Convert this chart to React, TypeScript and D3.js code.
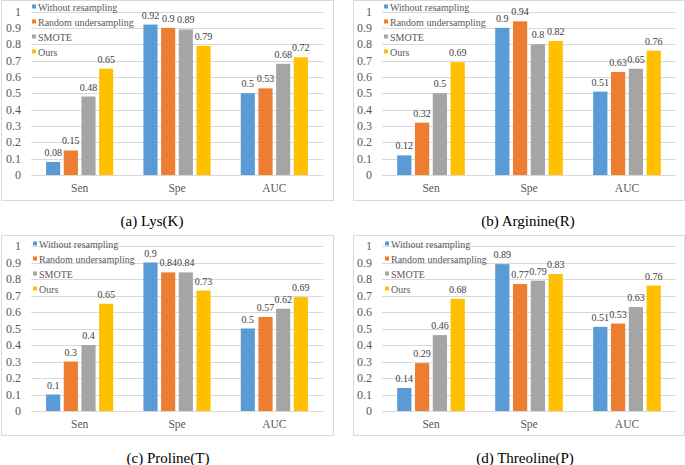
import { useEffect, useRef } from 'react'

import * as d3 from 'd3'

// Categories, series and tick labels
const categories = ['Sen', 'Spe', 'AUC']
const seriesNames = ['Without resampling', 'Random undersampling', 'SMOTE', 'Ours']
const seriesColors = ['#5B9BD5', '#ED7D31', '#A5A5A5', '#FFC000']
const yTicks = [0, 0.1, 0.2, 0.3, 0.4, 0.5, 0.6, 0.7, 0.8, 0.9, 1]

// Values per panel: one row per series, one column per category
const lysValues = [
  [0.08, 0.92, 0.5],
  [0.15, 0.9, 0.53],
  [0.48, 0.89, 0.68],
  [0.65, 0.79, 0.72],
]
const arginineValues = [
  [0.12, 0.9, 0.51],
  [0.32, 0.94, 0.63],
  [0.5, 0.8, 0.65],
  [0.69, 0.82, 0.76],
]
const prolineValues = [
  [0.1, 0.9, 0.5],
  [0.3, 0.84, 0.57],
  [0.4, 0.84, 0.62],
  [0.65, 0.73, 0.69],
]
const threolineValues = [
  [0.14, 0.89, 0.51],
  [0.29, 0.77, 0.53],
  [0.46, 0.79, 0.63],
  [0.68, 0.83, 0.76],
]
const captions = ['(a) Lys(K)', '(b) Arginine(R)', '(c) Proline(T)', '(d) Threoline(P)']

const panelValues = [lysValues, arginineValues, prolineValues, threolineValues]

// Layout of each panel (frame, plot area, legend, caption)
const layouts = [
  { fx: 1.5, fy: 0.5, fw: 332, fh: 200, left: 31, right: 323, top: 11.5, bottom: 175, lx: 32, ly: 7, cx: 152, cy: 226 },
  { fx: 353.5, fy: 0.5, fw: 331, fh: 200, left: 382, right: 676, top: 11.5, bottom: 175, lx: 384, ly: 7, cx: 528, cy: 226 },
  { fx: 1.5, fy: 235.5, fw: 332, fh: 200, left: 31, right: 323, top: 246, bottom: 411, lx: 33, ly: 244, cx: 168, cy: 463 },
  { fx: 353.5, fy: 235.5, fw: 331, fh: 200, left: 382, right: 676, top: 246, bottom: 411, lx: 385, ly: 244, cx: 525, cy: 463 },
]

const font = 'Liberation Serif, Times New Roman, serif'

const App = () => {
  const ref = useRef<SVGSVGElement>(null)

  useEffect(() => {
    const svg = d3.select(ref.current)
    svg.selectAll('*').remove()

    svg.append('rect').attr('width', 685).attr('height', 465).attr('fill', '#fff')

    layouts.forEach((lay, p) => {
      const values = panelValues[p]
      const g = svg.append('g')

      // Frame
      g.append('rect')
        .attr('x', lay.fx)
        .attr('y', lay.fy)
        .attr('width', lay.fw)
        .attr('height', lay.fh)
        .attr('fill', '#fff')
        .attr('stroke', '#D9D9D9')

      const y = d3.scaleLinear().domain([0, 1]).range([lay.bottom, lay.top])
      const x0 = d3
        .scaleBand<string>()
        .domain(categories)
        .range([lay.left, lay.right])
        .paddingInner(0.31)
        .paddingOuter(0.155)
      const x1 = d3
        .scaleBand<string>()
        .domain(seriesNames)
        .range([0, x0.bandwidth()])
        .paddingInner(0.2)

      // Gridlines and y tick labels
      yTicks.forEach((t) => {
        const yy = Math.round(y(t)) + 0.5
        g.append('line')
          .attr('x1', lay.left)
          .attr('x2', lay.right)
          .attr('y1', yy)
          .attr('y2', yy)
          .attr('stroke', '#D9D9D9')
        g.append('text')
          .attr('x', lay.left - 10)
          .attr('y', y(t) + 4)
          .attr('text-anchor', 'end')
          .style('font-family', font)
          .attr('font-size', 12)
          .attr('fill', '#595959')
          .text(String(t))
      })

      // Bars and value labels
      seriesNames.forEach((name, s) => {
        categories.forEach((cat, c) => {
          const v = values[s][c]
          const bx = (x0(cat) ?? 0) + (x1(name) ?? 0)
          g.append('rect')
            .attr('x', bx)
            .attr('y', y(v))
            .attr('width', x1.bandwidth())
            .attr('height', y(0) - y(v))
            .attr('fill', seriesColors[s])
          g.append('text')
            .attr('x', bx + x1.bandwidth() / 2)
            .attr('y', y(v) - 6)
            .attr('text-anchor', 'middle')
            .style('font-family', font)
            .attr('font-size', 10)
            .attr('fill', '#404040')
            .text(String(v))
        })
      })

      // Category labels
      categories.forEach((cat) => {
        g.append('text')
          .attr('x', (x0(cat) ?? 0) + x0.bandwidth() / 2)
          .attr('y', lay.bottom + 17)
          .attr('text-anchor', 'middle')
          .style('font-family', font)
          .attr('font-size', 11.5)
          .attr('fill', '#595959')
          .text(cat)
      })

      // Legend
      seriesNames.forEach((name, s) => {
        const ry = lay.ly + s * 15
        g.append('rect')
          .attr('x', lay.lx)
          .attr('y', ry - 2.5)
          .attr('width', 4)
          .attr('height', 4)
          .attr('fill', seriesColors[s])
        g.append('text')
          .attr('x', lay.lx + 6)
          .attr('y', ry + 3.5)
          .style('font-family', font)
          .attr('font-size', 10)
          .attr('fill', '#595959')
          .text(name)
      })

      // Caption
      svg.append('text')
        .attr('x', lay.cx)
        .attr('y', lay.cy)
        .attr('text-anchor', 'middle')
        .style('font-family', font)
        .attr('font-size', 15)
        .attr('fill', '#000')
        .text(captions[p])
    })
  }, [])

  return (
    <svg
      ref={ref}
      width={685}
      height={465}
      style={{ position: 'absolute', left: 0, top: 0, display: 'block' }}
    />
  )
}

export default App
